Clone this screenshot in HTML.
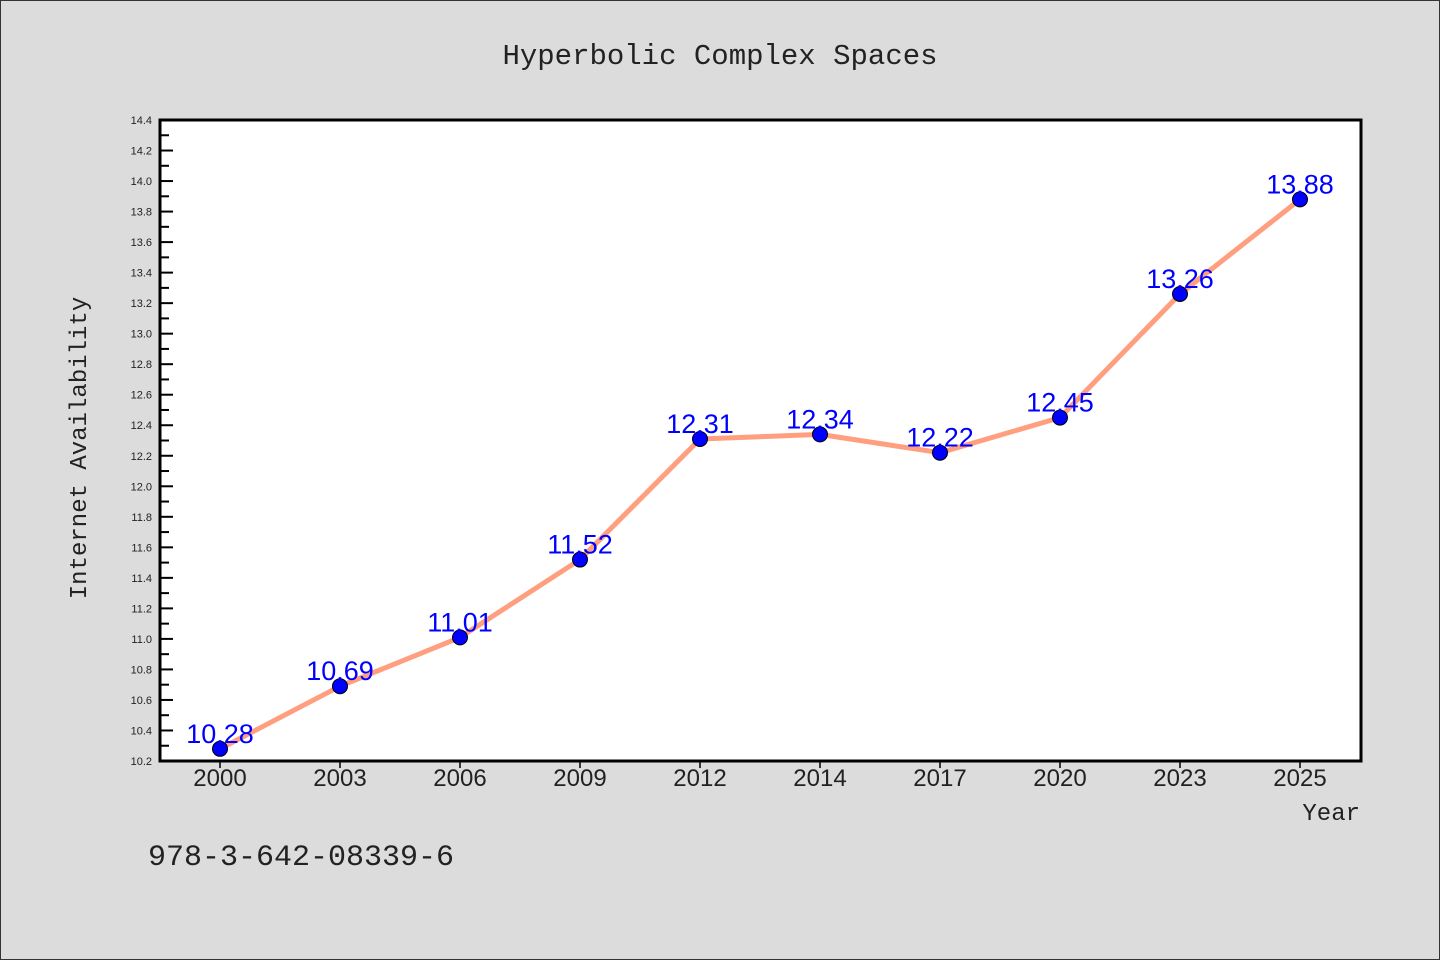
<!DOCTYPE html>
<html><head><meta charset="utf-8"><style>
html,body{margin:0;padding:0;background:#dcdcdc;}
svg{display:block;}
</style></head><body>
<svg width="1440" height="960" viewBox="0 0 1440 960" font-family="'Liberation Sans', 'DejaVu Sans', sans-serif">
<rect x="0.5" y="0.5" width="1439" height="959" fill="#dcdcdc" stroke="#333"/>
<text x="720" y="64" text-anchor="middle" font-size="29" font-family="'Liberation Mono', monospace" fill="#222">Hyperbolic Complex Spaces</text>
<rect x="160" y="120" width="1201" height="641" fill="#fff"/>
<g id="yticks"></g>
<g id="xticks"></g>
<polyline id="line" fill="none" stroke="#ff9f7f" stroke-width="5" stroke-linejoin="round"/>
<g id="points"></g>
<g id="labels"></g>
<rect x="160" y="120" width="1201" height="641" fill="none" stroke="#000" stroke-width="3"/>
<text x="86" y="448" text-anchor="middle" font-size="24" font-family="'Liberation Mono', monospace" fill="#222" transform="rotate(-90 86 448)">Internet Availability</text>
<text x="1360" y="820" text-anchor="end" font-size="24" font-family="'Liberation Mono', monospace" fill="#222">Year</text>
<text x="148" y="865" font-size="30" font-family="'Liberation Mono', monospace" fill="#222">978-3-642-08339-6</text>
</svg>
<script>
const categories = ["2000","2003","2006","2009","2012","2014","2017","2020","2023","2025"];
const values = [10.28,10.69,11.01,11.52,12.31,12.34,12.22,12.45,13.26,13.88];
const valueLabels = ["10.28","10.69","11.01","11.52","12.31","12.34","12.22","12.45","13.26","13.88"];
const yTicks = ["10.2","10.4","10.6","10.8","11.0","11.2","11.4","11.6","11.8","12.0","12.2","12.4","12.6","12.8","13.0","13.2","13.4","13.6","13.8","14.0","14.2","14.4"];
const yMin = 10.2, yMax = 14.4;
const NS = "http://www.w3.org/2000/svg";
function yScale(v){ return 761 - (v - yMin) / (yMax - yMin) * 641; }
function xScale(i){ return 160 + 1200 / categories.length * (i + 0.5); }
function mk(tag, attrs, parent){ const e = document.createElementNS(NS, tag); for (const k in attrs) e.setAttribute(k, attrs[k]); parent.appendChild(e); return e; }
const yg = document.getElementById('yticks');
yTicks.forEach((t, i) => {
  const y = yScale(parseFloat(t));
  const l = mk('line', {x1:160, x2:173, y1:y, y2:y, stroke:'#000', 'stroke-width':2}, yg);
  
  
  if (i < yTicks.length - 1) {
    const ym = yScale(parseFloat(t) + 0.1);
    const m = mk('line', {x1:160, x2:169, y1:ym, y2:ym, stroke:'#000', 'stroke-width':2}, yg);
    
    
  }
  const tx = mk('text', {x:152, y:y + 4, 'text-anchor':'end', 'font-size':11, fill:'#222'}, yg);
  tx.textContent = t;
  
  
});
const xg = document.getElementById('xticks');
categories.forEach((c, i) => {
  const x = xScale(i);
  const l = mk('line', {x1:x, x2:x, y1:761, y2:768, stroke:'#000', 'stroke-width':1.5}, xg);
  
  
  const tx = mk('text', {x:x, y:786, 'text-anchor':'middle', 'font-size':24, fill:'#222'}, xg);
  tx.textContent = c;
  
  
});
document.getElementById('line').setAttribute('points', values.map((v, i) => xScale(i) + ',' + yScale(v)).join(' '));
const pg = document.getElementById('points'), lg = document.getElementById('labels');
values.forEach((v, i) => {
  const c = mk('circle', {cx:xScale(i), cy:yScale(v), r:7.5, fill:'#0000ff', stroke:'#000', 'stroke-width':1}, pg);
  
  
  const t = mk('text', {x:xScale(i), y:yScale(v) - 6, 'text-anchor':'middle', 'font-size':27, fill:'#0000ff'}, lg);
  t.textContent = valueLabels[i];
  
  
});
</script>
</body></html>
